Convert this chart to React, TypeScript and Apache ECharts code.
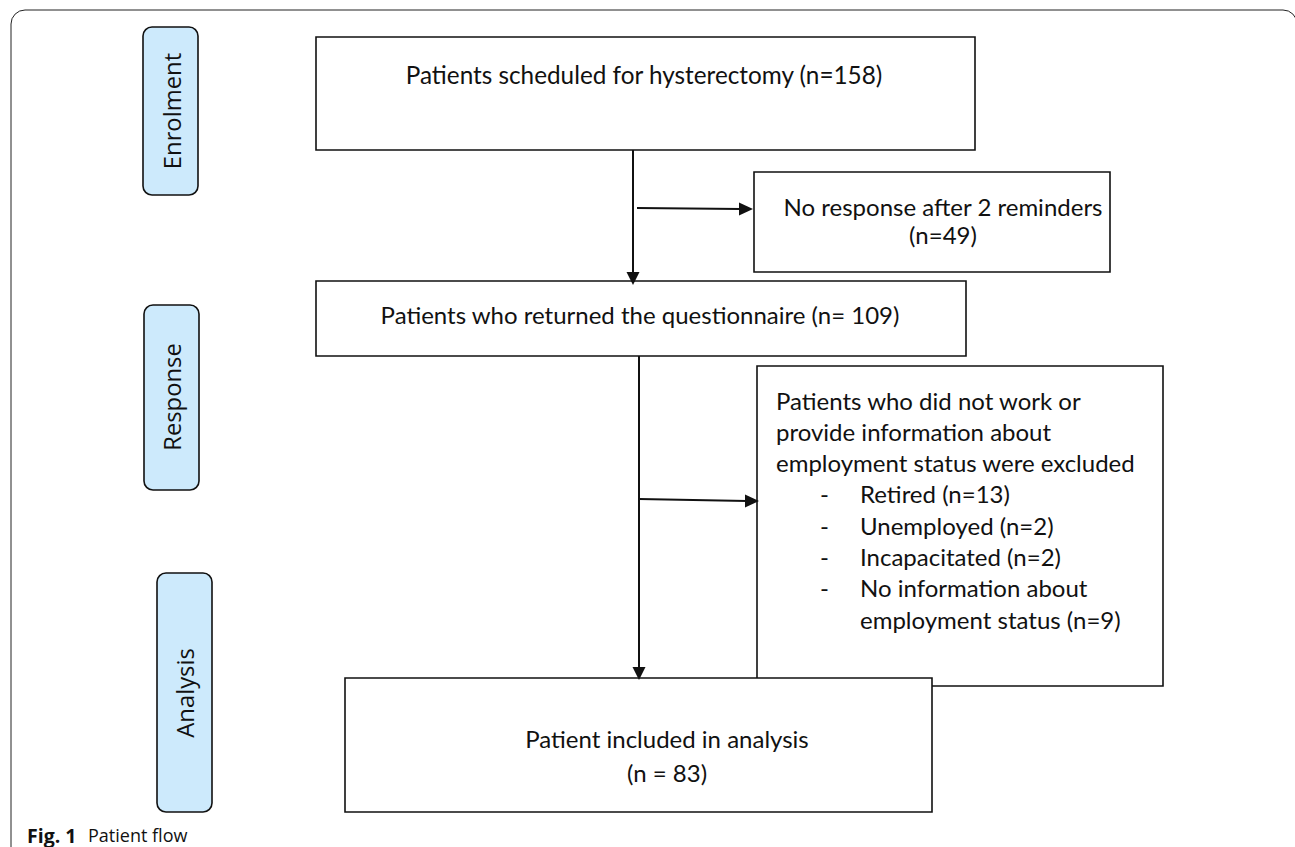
import React, { useEffect, useRef } from "react";
import * as echarts from "echarts";

const stageLabels = ["Enrolment", "Response", "Analysis"];
const topBoxText = ["Patients scheduled for hysterectomy (n=158)"];
const noResponseText = ["No response after 2 reminders", "(n=49)"];
const returnedText = ["Patients who returned the questionnaire (n= 109)"];
const excludedHeader = [
  "Patients who did not work or",
  "provide information about",
  "employment status were excluded",
];
const excludedItems = [
  ["Retired (n=13)"],
  ["Unemployed (n=2)"],
  ["Incapacitated (n=2)"],
  ["No information about", "employment status (n=9)"],
];
const analysisText = ["Patient included in analysis", "(n = 83)"];
const captionBold = "Fig. 1";
const captionText = "Patient flow";

const SIDE_FONT = "'Open Sans', 'Noto Sans', sans-serif";
const BODY_FONT = "Lato, 'Liberation Sans', sans-serif";
const STROKE = "#111";

function box(x: number, y: number, w: number, h: number, r = 0, fill = "#fff") {
  return {
    type: "rect",
    shape: { x, y, width: w, height: h, r },
    style: { fill, stroke: STROKE, lineWidth: 1.6 },
  };
}

function arrowDown(x: number, y1: number, y2: number) {
  return [
    { type: "line", shape: { x1: x, y1, x2: x, y2: y2 - 10 }, style: { stroke: STROKE, lineWidth: 2 } },
    { type: "polygon", shape: { points: [[x - 6.5, y2 - 13], [x + 6.5, y2 - 13], [x, y2]] }, style: { fill: STROKE } },
  ];
}

function arrowRight(x1: number, y1: number, x2: number, y2: number) {
  return [
    { type: "line", shape: { x1, y1, x2: x2 - 12, y2 }, style: { stroke: STROKE, lineWidth: 2 } },
    { type: "polygon", shape: { points: [[x2 - 14, y2 - 6.5], [x2 - 14, y2 + 6.5], [x2, y2]] }, style: { fill: STROKE } },
  ];
}

function text(x: number, y: number, t: string, opts: any = {}) {
  return {
    type: "text",
    x,
    y,
    style: {
      text: t,
      font: opts.font || `24px ${BODY_FONT}`,
      fill: "#111",
      align: opts.align || "left",
      verticalAlign: "middle",
    },
    rotation: opts.rotation || 0,
  };
}

export default function App() {
  const ref = useRef<HTMLDivElement>(null);
  useEffect(() => {
    if (!ref.current) return;
    const chart = echarts.init(ref.current, null, { renderer: "svg" });
    const g: any[] = [];
    // outer frame
    g.push({
      type: "rect",
      shape: { x: 11, y: 10, width: 1286, height: 900, r: 14 },
      style: { fill: "none", stroke: "#222", lineWidth: 1 },
    });
    // stage boxes
    const stages = [
      [143, 27, 55, 168, 172, 111],
      [144, 305, 55, 185, 172, 397],
      [157, 573, 55, 239, 185, 693],
    ];
    stages.forEach((s, i) => {
      g.push(box(s[0], s[1], s[2], s[3], 9, "#cdeafc"));
      g.push(text(s[4], s[5], stageLabels[i], { align: "center", rotation: Math.PI / 2, font: `23.8px ${SIDE_FONT}` }));
    });
    // main boxes
    g.push(box(316, 37, 659, 113));
    g.push(text(644, 74, topBoxText[0], { align: "center", font: `24.3px ${BODY_FONT}` }));
    g.push(box(754, 172, 356, 100));
    noResponseText.forEach((t, i) =>
      g.push(text(943, 206 + i * 28, t, { align: "center" }))
    );
    g.push(box(316, 281, 650, 75));
    g.push(text(640, 314, returnedText[0], { align: "center" }));
    g.push(box(757, 366, 406, 320));
    const bf = `24px ${BODY_FONT}`;
    excludedHeader.forEach((t, i) => g.push(text(776, 400 + i * 31.3, t, { font: bf })));
    let line = 3;
    excludedItems.forEach((item) => {
      g.push(text(820, 400 + line * 31.3, "-", { font: bf }));
      item.forEach((t) => {
        g.push(text(860, 400 + line * 31.3, t, { font: bf }));
        line++;
      });
    });
    g.push(box(345, 678, 587, 134));
    analysisText.forEach((t, i) =>
      g.push(text(667, 738 + i * 34, t, { align: "center" }))
    );
    // arrows
    g.push(...arrowDown(633, 150, 285));
    g.push(...arrowRight(637, 208, 753, 209));
    g.push(...arrowDown(639, 356, 680));
    g.push(...arrowRight(639, 499, 759, 501));
    // caption
    g.push(text(27, 835, captionBold, { font: `bold 19.5px ${SIDE_FONT}` }));
    g.push(text(88, 835, captionText, { font: `18px ${SIDE_FONT}` }));

    chart.setOption({ animation: false, graphic: { elements: g } });
    return () => chart.dispose();
  }, []);
  return (
    <div
      ref={ref}
      style={{ position: "fixed", left: 0, top: 0, width: 1295, height: 847, background: "#fff" }}
    />
  );
}
